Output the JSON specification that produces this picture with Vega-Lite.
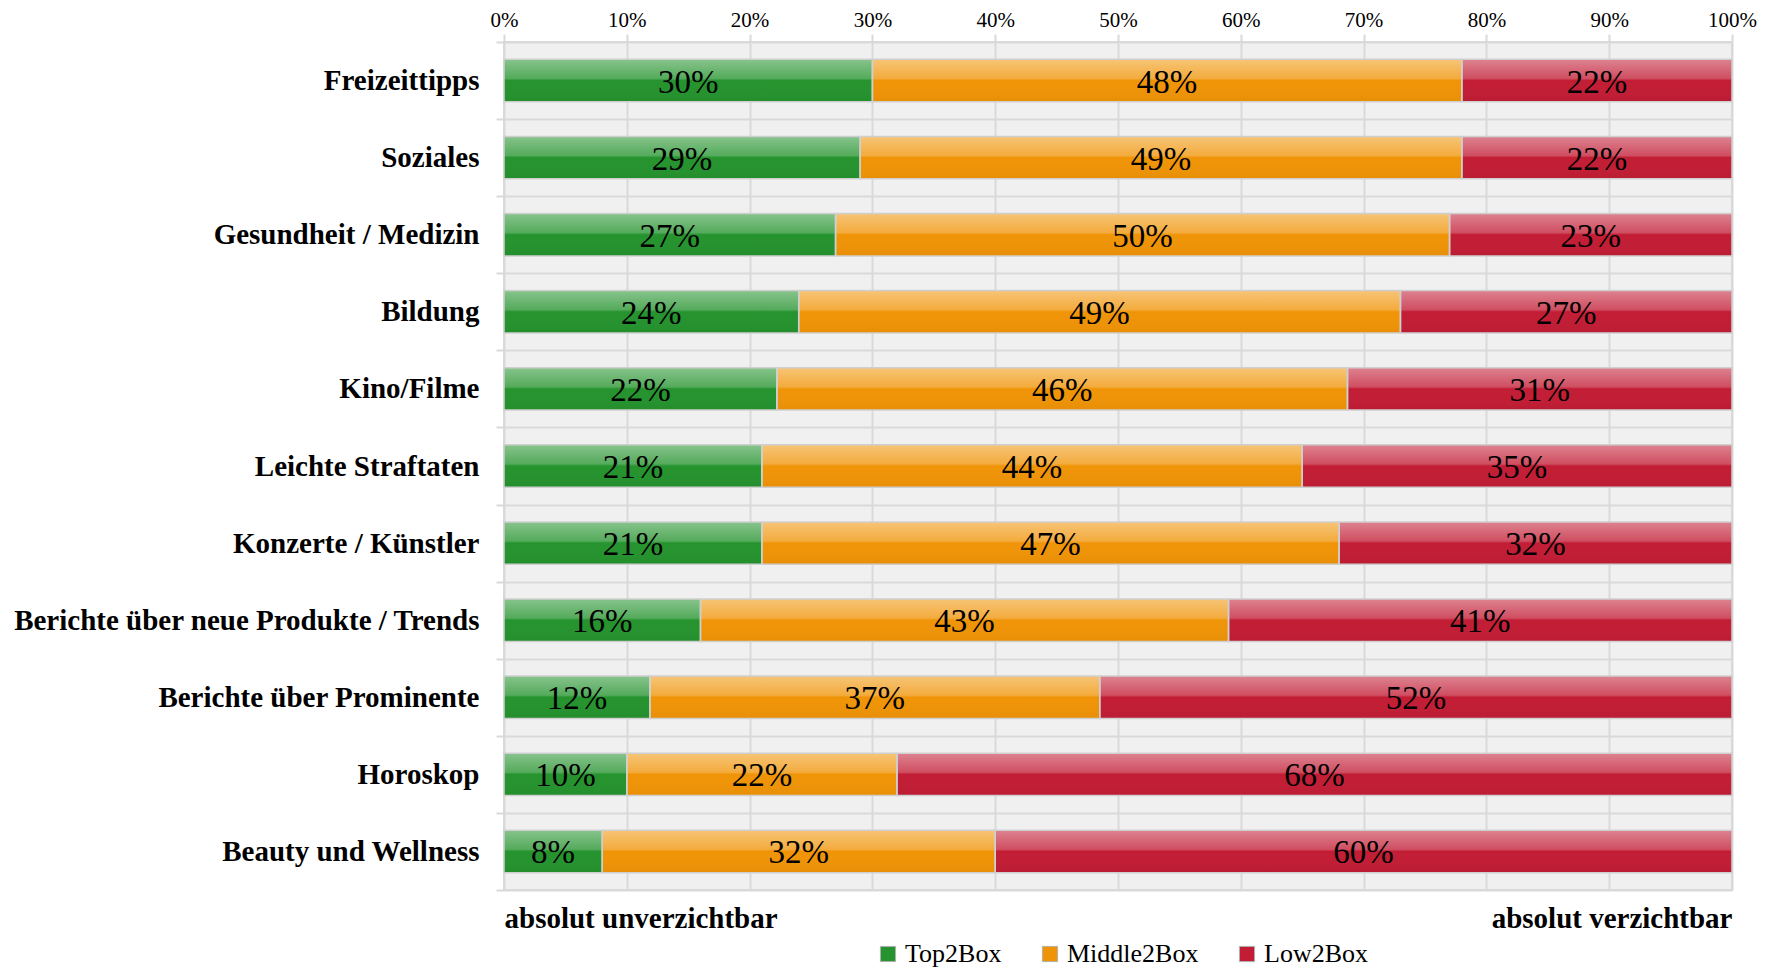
{
  "$schema": "https://vega.github.io/schema/vega-lite/v6.json",
  "width": 1228,
  "height": 848,
  "autosize": {"type": "none"},
  "padding": {"left": 504, "top": 42, "right": 41, "bottom": 83},
  "background": "white",
  "config": {
    "view": {"fill": "#f0f0f0", "stroke": "#d9d9d9", "strokeWidth": 2},
    "font": "Liberation Serif"
  },
  "data": {
    "values": [
      {"cat": "Freizeittipps", "box": "Top2Box", "v": 0.30, "k": 1},
      {"cat": "Freizeittipps", "box": "Middle2Box", "v": 0.48, "k": 2},
      {"cat": "Freizeittipps", "box": "Low2Box", "v": 0.22, "k": 3},
      {"cat": "Soziales", "box": "Top2Box", "v": 0.29, "k": 1},
      {"cat": "Soziales", "box": "Middle2Box", "v": 0.49, "k": 2},
      {"cat": "Soziales", "box": "Low2Box", "v": 0.22, "k": 3},
      {"cat": "Gesundheit / Medizin", "box": "Top2Box", "v": 0.27, "k": 1},
      {"cat": "Gesundheit / Medizin", "box": "Middle2Box", "v": 0.50, "k": 2},
      {"cat": "Gesundheit / Medizin", "box": "Low2Box", "v": 0.23, "k": 3},
      {"cat": "Bildung", "box": "Top2Box", "v": 0.24, "k": 1},
      {"cat": "Bildung", "box": "Middle2Box", "v": 0.49, "k": 2},
      {"cat": "Bildung", "box": "Low2Box", "v": 0.27, "k": 3},
      {"cat": "Kino/Filme", "box": "Top2Box", "v": 0.22, "k": 1},
      {"cat": "Kino/Filme", "box": "Middle2Box", "v": 0.46, "k": 2},
      {"cat": "Kino/Filme", "box": "Low2Box", "v": 0.31, "k": 3},
      {"cat": "Leichte Straftaten", "box": "Top2Box", "v": 0.21, "k": 1},
      {"cat": "Leichte Straftaten", "box": "Middle2Box", "v": 0.44, "k": 2},
      {"cat": "Leichte Straftaten", "box": "Low2Box", "v": 0.35, "k": 3},
      {"cat": "Konzerte / Künstler", "box": "Top2Box", "v": 0.21, "k": 1},
      {"cat": "Konzerte / Künstler", "box": "Middle2Box", "v": 0.47, "k": 2},
      {"cat": "Konzerte / Künstler", "box": "Low2Box", "v": 0.32, "k": 3},
      {"cat": "Berichte über neue Produkte / Trends", "box": "Top2Box", "v": 0.16, "k": 1},
      {"cat": "Berichte über neue Produkte / Trends", "box": "Middle2Box", "v": 0.43, "k": 2},
      {"cat": "Berichte über neue Produkte / Trends", "box": "Low2Box", "v": 0.41, "k": 3},
      {"cat": "Berichte über Prominente", "box": "Top2Box", "v": 0.12, "k": 1},
      {"cat": "Berichte über Prominente", "box": "Middle2Box", "v": 0.37, "k": 2},
      {"cat": "Berichte über Prominente", "box": "Low2Box", "v": 0.52, "k": 3},
      {"cat": "Horoskop", "box": "Top2Box", "v": 0.10, "k": 1},
      {"cat": "Horoskop", "box": "Middle2Box", "v": 0.22, "k": 2},
      {"cat": "Horoskop", "box": "Low2Box", "v": 0.68, "k": 3},
      {"cat": "Beauty und Wellness", "box": "Top2Box", "v": 0.08, "k": 1},
      {"cat": "Beauty und Wellness", "box": "Middle2Box", "v": 0.32, "k": 2},
      {"cat": "Beauty und Wellness", "box": "Low2Box", "v": 0.60, "k": 3}
    ]
  },
  "transform": [
    {"stack": "v", "groupby": ["cat"], "offset": "normalize", "sort": [{"field": "k", "order": "ascending"}], "as": ["v0", "v1"]}
  ],
  "encoding": {
    "y": {
      "field": "cat", "type": "nominal", "sort": null,
      "scale": {"paddingInner": 0, "paddingOuter": 0},
      "axis": {
        "title": null, "labelFont": "Liberation Serif", "labelFontWeight": "bold",
        "labelFontSize": 29, "labelColor": "#000000", "labelPadding": 17, "labelLimit": 700,
        "tickBand": "extent", "tickColor": "#d9d9d9", "tickSize": 8, "tickWidth": 2,
        "grid": true, "gridColor": "#d9d9d9", "gridWidth": 2, "domain": false
      }
    }
  },
  "layer": [
    {
      "mark": {"type": "bar", "height": {"band": 0.55}},
      "encoding": {
        "x": {
          "field": "v0", "type": "quantitative",
          "scale": {"domain": [0, 1], "nice": false},
          "axis": {
            "orient": "top", "title": null, "format": ".0%", "values": [0, 0.1, 0.2, 0.3, 0.4, 0.5, 0.6, 0.7, 0.8, 0.9, 1],
            "labelFont": "Liberation Serif", "labelFontSize": 21, "labelColor": "#000000", "labelPadding": 4,
            "labelFlush": false,
            "domain": false, "tickColor": "#d9d9d9", "tickSize": 8, "tickWidth": 2,
            "grid": true, "gridColor": "#d9d9d9", "gridWidth": 2
          }
        },
        "x2": {"field": "v1"},
        "color": {
          "field": "box", "type": "nominal",
          "scale": {"domain": ["Top2Box", "Middle2Box", "Low2Box"], "range": ["#25932e", "#f09407", "#c21d35"]},
          "legend": {
            "orient": "none", "legendX": 371, "legendY": 899, "direction": "horizontal", "title": null,
            "padding": 0,
            "labelFont": "Liberation Serif", "labelFontSize": 26, "labelColor": "#000000",
            "symbolType": "square", "symbolSize": 230, "symbolStrokeWidth": 1, "symbolStrokeColor": "#b0b0b0",
            "columnPadding": 35, "labelOffset": 4
          }
        }
      }
    },
    {
      "mark": {
        "type": "bar", "height": {"band": 0.55},
        "fill": {
          "gradient": "linear", "x1": 0, "y1": 0, "x2": 0, "y2": 1,
          "stops": [
            {"offset": 0, "color": "rgba(255,255,255,0.45)"},
            {"offset": 0.45, "color": "rgba(255,255,255,0.22)"},
            {"offset": 0.5, "color": "rgba(255,255,255,0)"},
            {"offset": 1, "color": "rgba(0,0,0,0.04)"}
          ]
        },
        "stroke": "#cfcfcf", "strokeWidth": 1.5
      },
      "encoding": {
        "x": {"field": "v0", "type": "quantitative", "scale": {"domain": [0, 1], "nice": false}, "axis": null},
        "x2": {"field": "v1"}
      }
    },
    {
      "transform": [
        {"fold": ["v0", "v1"], "as": ["edge", "pos"]},
        {"aggregate": [{"op": "mean", "field": "pos", "as": "vm"}], "groupby": ["cat", "box", "v"]}
      ],
      "mark": {"type": "text", "font": "Liberation Serif", "fontSize": 33, "color": "#000000", "baseline": "middle", "dy": 2},
      "encoding": {
        "x": {
          "field": "vm", "type": "quantitative",
          "scale": {"domain": [0, 1], "nice": false},
          "axis": {
            "orient": "bottom", "title": null, "values": [0, 1], "labelFlush": true, "labelLimit": 700,
            "labelExpr": "datum.value == 0 ? 'absolut unverzichtbar' : 'absolut verzichtbar'",
            "labelFont": "Liberation Serif", "labelFontWeight": "bold", "labelFontSize": 29, "labelColor": "#000000",
            "labelPadding": 14, "ticks": false, "domain": false, "grid": false
          }
        },
        "text": {"field": "v", "type": "quantitative", "format": ".0%"}
      }
    }
  ],
  "resolve": {"axis": {"x": "independent"}}
}
